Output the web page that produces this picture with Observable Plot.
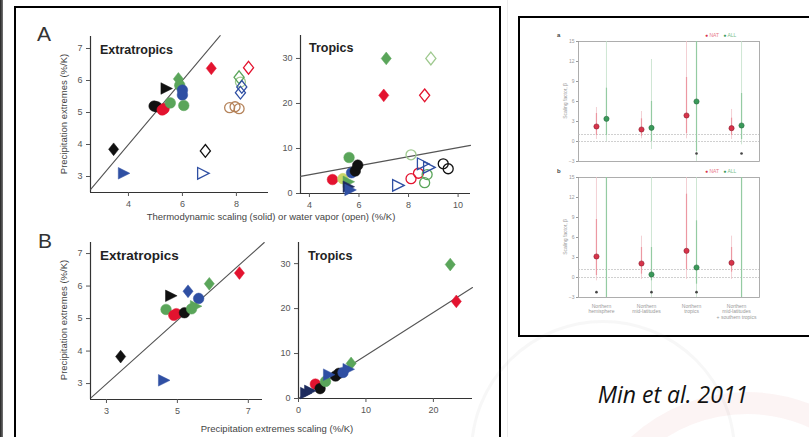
<!DOCTYPE html>
<html>
<head>
<meta charset="utf-8">
<script src="https://cdn.jsdelivr.net/npm/d3@7"></script>
<script src="https://cdn.jsdelivr.net/npm/@observablehq/plot@0.6"></script>
<style>
  html, body { margin: 0; padding: 0; background: #fff; }
  #stage { position: relative; width: 809px; height: 437px; overflow: hidden; background: #fff;
           font-family: "Liberation Sans", Arial, sans-serif; }
  .abs { position: absolute; white-space: nowrap; }
  .rot { transform: translate(-50%, -50%) rotate(-90deg); }
  .ctr { transform: translate(-50%, 0); }
  svg { overflow: visible; }
</style>
</head>
<body>
<div id="stage"></div>
<script>
// ---------------- DATA ----------------
// [x, y, group, symbol]
const aExtraSolid = [
  [3.45, 3.85, "K", "diamond"], [3.8, 3.1, "B", "tri"],
  [4.95, 5.2, "K", "circle"], [5.05, 5.18, "K", "circle"],
  [5.25, 5.08, "R", "circle"], [5.32, 5.12, "R", "circle"],
  [5.38, 5.75, "K", "tri"], [5.55, 5.3, "G", "circle"],
  [5.85, 6.05, "G", "diamond"], [5.9, 5.85, "G", "circle"],
  [6.0, 5.7, "B", "circle"], [6.0, 5.55, "B", "circle"],
  [6.05, 5.22, "G", "circle"], [7.07, 6.38, "R", "diamond"]
];
const aExtraOpen = [
  [6.85, 3.8, "K", "diamond"], [6.74, 3.1, "B", "tri"],
  [8.45, 6.4, "R", "diamond"], [8.1, 6.1, "G", "diamond"],
  [8.15, 5.95, "L", "circle"], [8.2, 5.8, "B", "diamond"],
  [8.15, 5.62, "B", "diamond"], [7.75, 5.15, "O", "circle"],
  [7.95, 5.18, "O", "circle"], [8.1, 5.12, "O", "circle"]
];
const aTropSolid = [
  [7.1, 30, "G", "diamond"], [7.0, 21.8, "R", "diamond"],
  [4.93, 3.1, "R", "circle"], [5.35, 3.3, "Y", "circle"],
  [5.6, 8.0, "G", "circle"], [5.7, 4.6, "B", "circle"],
  [5.85, 5.0, "K", "circle"], [5.95, 6.3, "K", "circle"],
  [5.55, 2.6, "G", "tri"], [5.55, 1.5, "N", "tri"], [5.62, 0.8, "B", "tri"]
];
const aTropOpen = [
  [8.9, 30, "L", "diamond"], [8.65, 21.8, "R", "diamond"],
  [8.1, 8.6, "L", "circle"], [7.55, 1.8, "B", "tri"],
  [8.1, 3.3, "R", "circle"], [8.4, 4.5, "R", "circle"],
  [8.55, 6.6, "B", "tri"], [8.8, 5.8, "B", "tri"],
  [8.75, 4.2, "G", "circle"], [8.65, 2.4, "G", "circle"],
  [9.4, 6.6, "K", "circle"], [9.6, 5.5, "K", "circle"]
];
const bExtraSolid = [
  [3.4, 3.83, "K", "diamond"], [4.6, 3.1, "B", "tri"],
  [4.8, 5.7, "K", "tri"], [4.68, 5.28, "G", "circle"],
  [4.9, 5.1, "R", "circle"], [4.97, 5.15, "R", "circle"],
  [5.2, 5.18, "K", "circle"], [5.4, 5.3, "G", "circle"],
  [5.5, 5.38, "G", "tri"], [5.3, 5.84, "B", "diamond"],
  [5.6, 5.62, "B", "circle"], [5.9, 6.07, "G", "diamond"],
  [6.75, 6.4, "R", "diamond"]
];
const bTropSolid = [
  [22.5, 29.8, "G", "diamond"], [23.4, 21.6, "R", "diamond"],
  [7.8, 7.8, "G", "diamond"], [7.3, 6.5, "B", "tri"],
  [1.0, 1.2, "N", "tri"], [1.6, 1.7, "N", "tri"],
  [2.5, 3.2, "R", "circle"], [3.2, 2.2, "K", "circle"],
  [4.0, 3.8, "G", "circle"], [4.4, 5.3, "B", "tri"],
  [5.5, 5.0, "K", "circle"], [6.0, 5.6, "K", "circle"],
  [6.6, 5.8, "B", "circle"]
];
// fitted / reference lines: [x1, x2], [y1, y2]
const aExtraFitX = [2.6, 7.4], aExtraFitY = [2.6, 7.4];
const aTropFitX = [3.64, 10.5], aTropFitY = [3.8, 10.7];
const bExtraFitX = [2.57, 7.45], bExtraFitY = [2.57, 7.34];
const bTropFitX = [0, 25.8], bTropFitY = [0, 24.7];

const aExtraXTicks = [4, 6, 8], aExtraYTicks = [3, 4, 5, 6, 7];
const aTropXTicks = [4, 6, 8, 10], aTropYTicks = [0, 10, 20, 30];
const bExtraXTicks = [3, 5, 7], bExtraYTicks = [3, 4, 5, 6, 7];
const bTropXTicks = [0, 10, 20], bTropYTicks = [0, 10, 20, 30];

// attribution panels (Min et al. 2011)
const regions = ["Northern\nhemisphere", "Northern\nmid-latitudes", "Northern\ntropics", "Northern\nmid-latitudes\n+ southern tropics"];
const betaTicks = [-3, 0, 3, 6, 9, 12, 15];
const aNatBest = [2.25, 1.8, 3.9, 2.0];
const aAllBest = [3.4, 2.05, 6.0, 2.4];
const aNatThinLo = [0.3, 0.4, 0.4, 0.3], aNatThinHi = [5.1, 4.5, 15, 4.8];
const aNatThickLo = [0.9, 0.8, 1.2, 0.9], aNatThickHi = [4.2, 3.4, 9.6, 3.5];
const aAllThinLo = [0.0, -1.2, -3, -0.5], aAllThinHi = [15, 12.3, 15, 15];
const aAllThickLo = [0.9, 0.0, -1.5, 0.3], aAllThickHi = [8.0, 6.0, 15, 7.2];
const aMarkNat = [null, null, null, null], aMarkAll = [null, null, -1.8, -1.8];
const aRefLines = [0, 1.05];
const bNatBest = [3.15, 2.1, 4.0, 2.2];
const bAllBest = [null, 0.45, 1.5, null];
const bNatThinLo = [-0.5, -0.3, -0.3, -0.3], bNatThinHi = [15, 6.2, 15, 6.2];
const bNatThickLo = [0.3, 0.5, 1.2, 0.8], bNatThickHi = [8.7, 4.5, 12.5, 4.5];
const bAllThinLo = [-3, -3, -3, -3], bAllThinHi = [15, 15, 15, 15];
const bAllThickLo = [-3, -0.5, -1, -3], bAllThickHi = [15, 4.5, 8.5, 15];
const bMarkNat = [-2.2, null, null, null], bMarkAll = [null, -2.2, -2.2, null];
const bRefLines = [0, 1.2];

// ---------------- STYLE ----------------
const groupColor = { R: "#e3132f", G: "#5aa55a", B: "#2f4fa3", K: "#111111", N: "#1d2b5e",
                     O: "#b5835a", L: "#9fc98f", Y: "#c9d66a" };
const triRight = {
  draw(ctx, size) {
    const r = Math.sqrt(size) * 0.64;
    ctx.moveTo(r, 0);
    ctx.lineTo(-r * 0.7, -r * 0.85);
    ctx.lineTo(-r * 0.7, r * 0.85);
    ctx.closePath();
  }
};
const diamondShape = {
  draw(ctx, size) {
    const r = Math.sqrt(size) * 0.5;
    ctx.moveTo(0, -r * 1.2);
    ctx.lineTo(r * 0.95, 0);
    ctx.lineTo(0, r * 1.2);
    ctx.lineTo(-r * 0.95, 0);
    ctx.closePath();
  }
};
const symOf = { circle: "circle", diamond: diamondShape, tri: triRight };

const stage = document.getElementById("stage");
function addDiv(html, css, cls) {
  const d = document.createElement("div");
  d.className = "abs " + (cls || "");
  d.innerHTML = html;
  Object.assign(d.style, css);
  stage.appendChild(d);
  return d;
}
function place(svg, left, top) {
  svg.style.position = "absolute";
  svg.style.left = left + "px";
  svg.style.top = top + "px";
  stage.appendChild(svg);
}

// boxes
addDiv("", { left: "0px", top: "0px", width: "3px", height: "437px", background: "linear-gradient(90deg,#222,#777)" });
addDiv("", { left: "14px", top: "6px", width: "483px", height: "440px", border: "2px solid #000" });
addDiv("", { left: "507px", top: "0px", width: "1px", height: "437px", background: "#ececec" });
addDiv("", { left: "518px", top: "16px", width: "300px", height: "317px", border: "2px solid #000" });
// faint watermark rings
addDiv("", { left: "575px", top: "392px", width: "300px", height: "300px", borderRadius: "50%",
             border: "22px solid rgba(200,40,40,0.05)" });
addDiv("", { left: "470px", top: "320px", width: "260px", height: "260px", borderRadius: "50%",
             border: "3px solid rgba(120,120,120,0.06)" });

// ---------------- SCATTER PANELS ----------------
function scatterPanel(o) {
  const mL = 40, mR = 10, mT = 8, mB = 24;
  const w = o.px[1] - o.px[0] + mL + mR;
  const h = o.py[1] - o.py[0] + mT + mB;
  const marks = [
    Plot.ruleX([o.xDomain[0]], { stroke: "#333", strokeWidth: 1.2 }),
    Plot.ruleY([o.yDomain[0]], { stroke: "#333", strokeWidth: 1.2 }),
    Plot.axisX({ ticks: o.xTicks, tickFormat: d => String(d), tickSize: 4, tickPadding: 4, fontSize: 9, color: "#555", label: null }),
    Plot.axisY({ ticks: o.yTicks, tickFormat: d => String(d), tickSize: 4, tickPadding: 4, fontSize: 9, color: "#555", label: null }),
    Plot.line(o.fitX.map((x, i) => ({ x, y: o.fitY[i] })), { x: "x", y: "y", stroke: "#555", strokeWidth: 1.1 })
  ];
  for (const s of ["circle", "diamond", "tri"]) {
    const open = (o.open || []).filter(d => d[3] === s);
    marks.push(Plot.dot(open, { x: d => d[0], y: d => d[1], stroke: d => groupColor[d[2]], fill: "none",
      strokeWidth: 1.3, r: s === "circle" ? 5 : 6, symbol: symOf[s] }));
  }
  for (const s of ["circle", "diamond", "tri"]) {
    const solid = o.solid.filter(d => d[3] === s);
    marks.push(Plot.dot(solid, { x: d => d[0], y: d => d[1], fill: d => groupColor[d[2]],
      stroke: d => groupColor[d[2]], strokeOpacity: 0.5, strokeWidth: 1, r: s === "circle" ? 5.3 : 6, symbol: symOf[s] }));
  }
  const svg = Plot.plot({
    width: w, height: h, marginLeft: mL, marginRight: mR, marginTop: mT, marginBottom: mB,
    x: { domain: o.xDomain }, y: { domain: o.yDomain },
    color: { type: "identity" },
    style: { background: "transparent", fontFamily: "Liberation Sans, Arial, sans-serif" },
    marks
  });
  place(svg, o.px[0] - mL, o.py[0] - mT);
}

scatterPanel({ px: [90, 268], py: [36, 192], xDomain: [2.593, 9.19], yDomain: [2.5, 7.375],
  xTicks: aExtraXTicks, yTicks: aExtraYTicks, solid: aExtraSolid, open: aExtraOpen, fitX: aExtraFitX, fitY: aExtraFitY });
scatterPanel({ px: [300, 470], py: [35, 193], xDomain: [3.64, 10.5], yDomain: [0, 35.1],
  xTicks: aTropXTicks, yTicks: aTropYTicks, solid: aTropSolid, open: aTropOpen, fitX: aTropFitX, fitY: aTropFitY });
scatterPanel({ px: [90, 262], py: [242, 399], xDomain: [2.55, 7.4], yDomain: [2.51, 7.34],
  xTicks: bExtraXTicks, yTicks: bExtraYTicks, solid: bExtraSolid, fitX: bExtraFitX, fitY: bExtraFitY });
scatterPanel({ px: [298, 472], py: [242, 398], xDomain: [0, 25.8], yDomain: [0, 34.7],
  xTicks: bTropXTicks, yTicks: bTropYTicks, solid: bTropSolid, fitX: bTropFitX, fitY: bTropFitY });

// scatter text
addDiv("A", { left: "37px", top: "22px", fontSize: "21px", color: "#333" });
addDiv("B", { left: "38px", top: "229px", fontSize: "21px", color: "#333" });
addDiv("Extratropics", { left: "100px", top: "43px", fontSize: "12.5px", fontWeight: "bold", color: "#222" });
addDiv("Tropics", { left: "309px", top: "41px", fontSize: "12.5px", fontWeight: "bold", color: "#222" });
addDiv("Extratropics", { left: "100px", top: "248px", fontSize: "13.5px", fontWeight: "bold", color: "#222" });
addDiv("Tropics", { left: "308px", top: "249px", fontSize: "12.5px", fontWeight: "bold", color: "#222" });
addDiv("Precipitation extremes (%/K)", { left: "63px", top: "114px", fontSize: "9.5px", color: "#444" }, "rot");
addDiv("Precipitation extremes (%/K)", { left: "63px", top: "320px", fontSize: "9.5px", color: "#444" }, "rot");
addDiv("Thermodynamic scaling (solid) or water vapor (open) (%/K)", { left: "271px", top: "211px", fontSize: "9.5px", color: "#444" }, "ctr");
addDiv("Precipitation extremes scaling (%/K)", { left: "277px", top: "423px", fontSize: "9.5px", color: "#444" }, "ctr");

// ---------------- ATTRIBUTION PANELS ----------------
const idx = [0, 1, 2, 3];
function attrPanel(o) {
  const px = [578, 759];
  const mL = 22, mR = 6, mT = 6, mB = o.showX ? 34 : 6;
  const w = px[1] - px[0] + mL + mR;
  const h = o.py[1] - o.py[0] + mT + mB;
  const natC = "#d8334a", allC = "#3a9a5a";
  const marks = [
    Plot.frame({ stroke: "#9a9a9a", strokeWidth: 0.8 }),
    Plot.ruleY(o.ref, { stroke: "#bbb", strokeWidth: 0.7, strokeDasharray: "2,1" }),
    Plot.axisY({ ticks: betaTicks, tickSize: 2, tickPadding: 2, fontSize: 5, color: "#999", label: null }),
    o.showX
      ? Plot.axisX({ ticks: idx, tickFormat: i => regions[i], tickSize: 0, tickPadding: 6, fontSize: 5, color: "#999", label: null, lineHeight: 1.15 })
      : Plot.axisX({ ticks: [], label: null }),
    Plot.ruleX(idx, { x: i => i, y1: i => o.natThinLo[i], y2: i => o.natThinHi[i], dx: -5, stroke: "#f0c4c9", strokeWidth: 0.8 }),
    Plot.ruleX(idx, { x: i => i, y1: i => o.natThickLo[i], y2: i => o.natThickHi[i], dx: -5, stroke: "#ec98a2", strokeWidth: 1.2 }),
    Plot.ruleX(idx, { x: i => i, y1: i => o.allThinLo[i], y2: i => o.allThinHi[i], dx: 5, stroke: "#c2dfc8", strokeWidth: 0.8 }),
    Plot.ruleX(idx, { x: i => i, y1: i => o.allThickLo[i], y2: i => o.allThickHi[i], dx: 5, stroke: "#94cba2", strokeWidth: 1.2 }),
    Plot.dot(idx.filter(i => o.natBest[i] != null), { x: i => i, y: i => o.natBest[i], dx: -5, r: 2.6, fill: natC, stroke: "#8a2030", strokeWidth: 0.6 }),
    Plot.dot(idx.filter(i => o.allBest[i] != null), { x: i => i, y: i => o.allBest[i], dx: 5, r: 2.6, fill: allC, stroke: "#2a6a40", strokeWidth: 0.6 }),
    Plot.dot(idx.filter(i => o.markNat[i] != null), { x: i => i, y: i => o.markNat[i], dx: -5, r: 1.3, fill: "#444" }),
    Plot.dot(idx.filter(i => o.markAll[i] != null), { x: i => i, y: i => o.markAll[i], dx: 5, r: 1.3, fill: "#444" })
  ];
  const svg = Plot.plot({
    width: w, height: h, marginLeft: mL, marginRight: mR, marginTop: mT, marginBottom: mB,
    x: { domain: [-0.51, 3.51] }, y: { domain: [-3, 15] },
    style: { background: "transparent", fontFamily: "Liberation Sans, Arial, sans-serif" },
    marks
  });
  place(svg, px[0] - mL, o.py[0] - mT);
  // panel letter, legend, y label
  addDiv(o.letter, { left: "557px", top: (o.py[0] - 9) + "px", fontSize: "6px", fontWeight: "bold", color: "#444" });
  addDiv('<span style="color:#d8334a">●</span> <span style="color:#e87a88">NAT</span>&nbsp;&nbsp;&nbsp;<span style="color:#3a9a5a">●</span> <span style="color:#7cbf8c">ALL</span>',
    { left: "705px", top: (o.py[0] - 9) + "px", fontSize: "5px" });
  addDiv("Scaling factor, β", { left: "565px", top: ((o.py[0] + o.py[1]) / 2) + "px", fontSize: "5px", color: "#999" }, "rot");
}
attrPanel({ letter: "a", py: [41, 161], showX: false, ref: aRefLines,
  natBest: aNatBest, allBest: aAllBest, natThinLo: aNatThinLo, natThinHi: aNatThinHi,
  natThickLo: aNatThickLo, natThickHi: aNatThickHi, allThinLo: aAllThinLo, allThinHi: aAllThinHi,
  allThickLo: aAllThickLo, allThickHi: aAllThickHi, markNat: aMarkNat, markAll: aMarkAll });
attrPanel({ letter: "b", py: [177, 297], showX: true, ref: bRefLines,
  natBest: bNatBest, allBest: bAllBest, natThinLo: bNatThinLo, natThinHi: bNatThinHi,
  natThickLo: bNatThickLo, natThickHi: bNatThickHi, allThinLo: bAllThinLo, allThinHi: bAllThinHi,
  allThickLo: bAllThickLo, allThickHi: bAllThickHi, markNat: bMarkNat, markAll: bMarkAll });

// caption
addDiv("Min et al. 2011", { left: "673px", top: "378px", fontSize: "23px", fontStyle: "italic",
  fontFamily: "'Open Sans', 'Liberation Sans', sans-serif", color: "#111" }, "ctr");
</script>
</body>
</html>
